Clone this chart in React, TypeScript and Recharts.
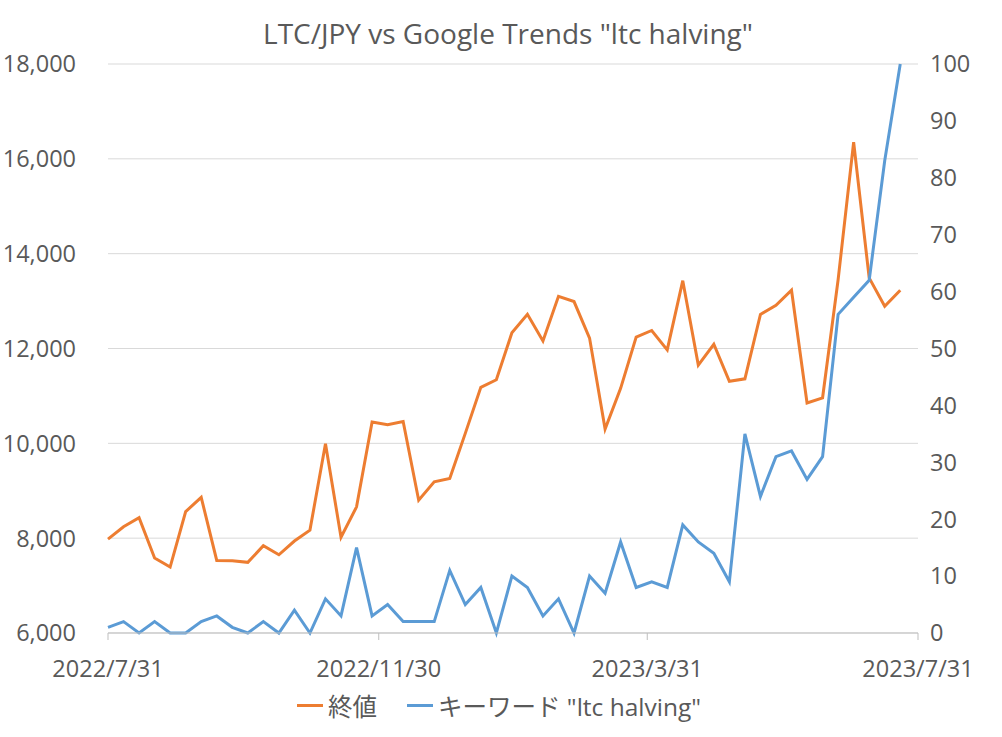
import React from "react";
import {
  CartesianGrid,
  Legend,
  Line,
  LineChart,
  XAxis,
  YAxis,
} from "recharts";

const FONT = "'Open Sans', 'Noto Sans CJK JP', sans-serif";
const TEXT = "#595959";
const ORANGE = "#ED7D31";
const BLUE = "#5B9BD5";

// weekly closes, starting 2022/7/31
const CLOSE = [
  7980, 8240, 8430, 7580, 7390, 8560, 8860, 7530, 7525, 7490,
  7840, 7650, 7940, 8170, 9990, 8020, 8660, 10450, 10390, 10460,
  8800, 9190, 9260, 10210, 11180, 11340, 12330, 12720, 12160, 13100,
  12990, 12220, 10300, 11160, 12240, 12380, 11970, 13430, 11650, 12090,
  11310, 11360, 12720, 12910, 13230, 10850, 10960, 13450, 16350, 13490,
  12890, 13230,
];

const TRENDS = [
  1, 2, 0, 2, 0, 0, 2, 3, 1, 0,
  2, 0, 4, 0, 6, 3, 15, 3, 5, 2,
  2, 2, 11, 5, 8, 0, 10, 8, 3, 6,
  0, 10, 7, 16, 8, 9, 8, 19, 16, 14,
  9, 35, 24, 31, 32, 27, 31, 56, 59, 62,
  83, 100,
];

const X_TICK_DAYS = [0, 122, 243, 365];
const X_TICK_LABELS = ["2022/7/31", "2022/11/30", "2023/3/31", "2023/7/31"];
const LEFT_TICKS = [6000, 8000, 10000, 12000, 14000, 16000, 18000];
const RIGHT_TICKS = [0, 10, 20, 30, 40, 50, 60, 70, 80, 90, 100];

const SERIES_NAMES = ["終値", 'キーワード "ltc halving"'];

const data = CLOSE.map((close, i) => ({
  day: i * 7,
  close,
  trends: TRENDS[i],
}));

function LegendBox() {
  const items = [
    { name: SERIES_NAMES[0], color: ORANGE },
    { name: SERIES_NAMES[1], color: BLUE },
  ];
  return (
    <div
      style={{
        display: "flex",
        justifyContent: "center",
        gap: 30,
        fontFamily: FONT,
        fontSize: 24.5,
        color: TEXT,
        paddingRight: 4,
      }}
    >
      {items.map((it) => (
        <div key={it.name} style={{ display: "flex", alignItems: "center" }}>
          <span
            style={{
              display: "inline-block",
              width: 26,
              height: 3,
              background: it.color,
              marginRight: 5,
            }}
          />
          <span>{it.name}</span>
        </div>
      ))}
    </div>
  );
}

export default function App() {
  const tickStyle = { fill: TEXT, fontSize: 23.5, fontFamily: FONT };
  return (
    <div style={{ position: "absolute", left: 0, top: 0, background: "#fff" }}>
      <LineChart
        width={1002}
        height={737}
        data={data}
        margin={{ top: 64, right: 0, bottom: 0, left: 0 }}
      >
        <text
          x={508}
          y={44}
          textAnchor="middle"
          fill={TEXT}
          fontSize={28}
          fontFamily={FONT}
        >
          {'LTC/JPY vs Google Trends "ltc halving"'}
        </text>
        <CartesianGrid vertical={false} stroke="#d9d9d9" yAxisId="left" />
        <XAxis
          dataKey="day"
          type="number"
          domain={[0, 365]}
          ticks={X_TICK_DAYS}
          tickFormatter={(v) => X_TICK_LABELS[X_TICK_DAYS.indexOf(v)] ?? ""}
          height={104}
          tickSize={7}
          tickMargin={20}
          stroke="#bfbfbf"
          tick={tickStyle}
          interval={0}
        />
        <YAxis
          yAxisId="left"
          domain={[6000, 18000]}
          ticks={LEFT_TICKS}
          width={108}
          axisLine={false}
          tickLine={false}
          tickSize={0}
          tickMargin={32}
          tick={tickStyle}
          tickFormatter={(v) => v.toLocaleString("en-US")}
          interval={0}
        />
        <YAxis
          yAxisId="right"
          orientation="right"
          domain={[0, 100]}
          ticks={RIGHT_TICKS}
          width={84}
          axisLine={false}
          tickLine={false}
          tickSize={0}
          tickMargin={12}
          tick={{ ...tickStyle, textAnchor: "start" }}
          interval={0}
        />
        <Legend
          layout="horizontal"
          verticalAlign="middle"
          align="center"
          content={<LegendBox />}
          wrapperStyle={{ top: 688, left: 0, width: 1002 }}
        />
        <Line
          yAxisId="left"
          dataKey="close"
          name={SERIES_NAMES[0]}
          stroke={ORANGE}
          strokeWidth={3}
          dot={false}
          isAnimationActive={false}
        />
        <Line
          yAxisId="right"
          dataKey="trends"
          name={SERIES_NAMES[1]}
          stroke={BLUE}
          strokeWidth={3}
          dot={false}
          isAnimationActive={false}
        />
      </LineChart>
    </div>
  );
}
